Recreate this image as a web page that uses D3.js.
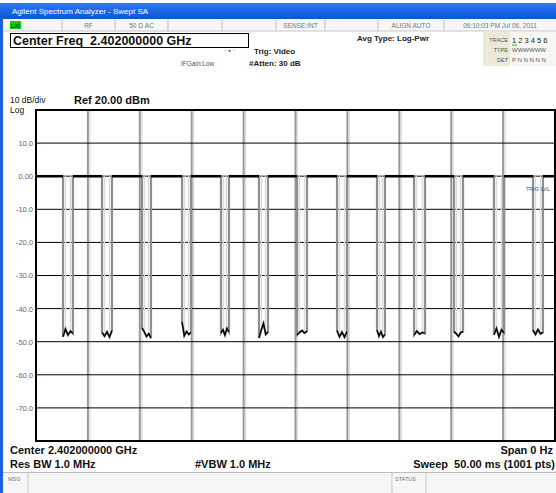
<!DOCTYPE html>
<html>
<head>
<meta charset="utf-8">
<script src="https://cdn.jsdelivr.net/npm/d3@7"></script>
<style>
  html, body { margin: 0; padding: 0; background: #fff; }
  svg { display: block; font-family: "Liberation Sans", Arial, sans-serif; }
</style>
</head>
<body>
<svg id="chart" width="556" height="493"></svg>
<script>
// ---- data -----------------------------------------------------------------
var yTickValues = [10, 0, -10, -20, -30, -40, -50, -60, -70];
var yTickLabels = ['10.0', '0.00', '-10.0', '-20.0', '-30.0', '-40.0', '-50.0', '-60.0', '-70.0'];
var xGridMs = [5, 10, 15, 20, 25, 30, 35, 40, 45];

// zero-span trace: carrier sits at 0 dBm, drops out 13 times (ms)
var dipStart = [2.60, 6.36, 10.21, 14.07, 17.82, 21.48, 25.14, 29.00, 32.85, 36.42, 40.27, 44.12, 47.88];
var dipEnd   = [3.56, 7.32, 11.08, 14.93, 18.59, 22.35, 26.11, 29.96, 33.62, 37.48, 41.14, 45.09, 48.84];
var topLevel = 0.0;
// noise floor samples at the bottom of each dip (dBm)
var dipFloor = [
  [-48.5, -46.2, -48.0, -46.8, -47.5],
  [-47.2, -48.3, -47.0, -48.6, -46.6],
  [-45.8, -47.0, -48.4, -47.6, -48.9],
  [-44.0, -48.2, -46.9, -47.8, -47.2],
  [-47.3, -46.4, -48.0, -46.0, -47.0],
  [-48.9, -46.5, -44.5, -47.8, -47.0],
  [-48.0, -47.2, -46.6, -47.4, -46.8],
  [-46.6, -48.5, -47.1, -48.6, -46.9],
  [-46.5, -48.3, -47.0, -48.6, -47.8],
  [-48.0, -46.8, -47.7, -47.2, -47.5],
  [-46.9, -47.6, -48.4, -47.2, -47.0],
  [-47.9, -46.0, -48.5, -46.4, -47.3],
  [-46.5, -47.8, -46.3, -47.6, -47.2]
];

var statusCells = [
  { x0: 4, x1: 62, text: '' },
  { x0: 62, x1: 115, text: 'RF' },
  { x0: 115, x1: 168, text: '50 Ω   AC' },
  { x0: 168, x1: 222, text: '' },
  { x0: 222, x1: 276, text: '' },
  { x0: 276, x1: 325, text: 'SENSE:INT' },
  { x0: 325, x1: 378, text: '' },
  { x0: 378, x1: 444, text: 'ALIGN AUTO' },
  { x0: 444, x1: 556, text: '06:10:03 PM Jul 06, 2011' }
];

// ---- build -----------------------------------------------------------------
var svg = d3.select('#chart');
var L = 36, R = 555, T = 110, B = 441;
var x = d3.scaleLinear().domain([0, 50]).range([L, R]);
var y = d3.scaleLinear().domain([-80, 20]).range([B, T]);

// title bar + window frame
var grad = svg.append('defs').append('linearGradient')
  .attr('id', 'tb').attr('x1', 0).attr('x2', 0).attr('y1', 0).attr('y2', 1);
grad.append('stop').attr('offset', '0%').attr('stop-color', '#2a7af2');
grad.append('stop').attr('offset', '100%').attr('stop-color', '#0a56d6');
svg.append('rect').attr('x', 0).attr('y', 3).attr('width', 556).attr('height', 16).attr('fill', 'url(#tb)');
svg.append('text').attr('x', 12).attr('y', 14).attr('fill', '#fff').attr('font-size', 8)
  .text('Agilent Spectrum Analyzer - Swept SA');
svg.append('rect').attr('x', 0).attr('y', 19).attr('width', 3).attr('height', 474).attr('fill', '#1b5fe2');

// status row
var st = svg.append('g');
st.append('rect').attr('x', 3).attr('y', 19).attr('width', 553).attr('height', 12).attr('fill', '#f6f6f6');
st.append('line').attr('x1', 3).attr('x2', 556).attr('y1', 31).attr('y2', 31).attr('stroke', '#c8c8c8');
statusCells.forEach(function (c, i) {
  if (i > 0) st.append('line').attr('x1', c.x0).attr('x2', c.x0).attr('y1', 20).attr('y2', 31).attr('stroke', '#bdbdbd');
  if (c.text) st.append('text').attr('x', (c.x0 + c.x1) / 2).attr('y', 28).attr('text-anchor', 'middle')
    .attr('font-size', 6.5).attr('fill', '#777').text(c.text);
});
st.append('rect').attr('x', 10).attr('y', 21).attr('width', 11).attr('height', 8).attr('fill', '#14c814');
st.append('text').attr('x', 11).attr('y', 28).attr('font-size', 6).attr('fill', '#000').text('LXI');

// center freq box
svg.append('rect').attr('x', 10.5).attr('y', 33.5).attr('width', 238).attr('height', 14)
  .attr('fill', '#fff').attr('stroke', '#000');
svg.append('text').attr('x', 13).attr('y', 45).attr('font-size', 12.5).attr('font-weight', 'bold')
  .attr('fill', '#111').attr('xml:space', 'preserve').text('Center Freq  2.402000000 GHz');

// settings text
svg.append('text').attr('x', 224).attr('y', 53).attr('font-size', 7).attr('fill', '#444').text('· ▪ ·');
svg.append('text').attr('x', 254).attr('y', 54).attr('font-size', 8).attr('font-weight', 'bold').attr('fill', '#222').text('Trig: Video');
svg.append('text').attr('x', 181).attr('y', 66).attr('font-size', 6.5).attr('fill', '#555').text('IFGain:Low');
svg.append('text').attr('x', 249).attr('y', 66).attr('font-size', 8).attr('font-weight', 'bold').attr('fill', '#222').text('#Atten: 30 dB');
svg.append('text').attr('x', 357).attr('y', 41).attr('font-size', 8).attr('font-weight', 'bold').attr('fill', '#222').text('Avg Type: Log-Pwr');

// trace panel
var tp = svg.append('g');
tp.append('rect').attr('x', 483).attr('y', 32).attr('width', 73).attr('height', 34).attr('fill', '#ece9d8');
tp.append('rect').attr('x', 510).attr('y', 32).attr('width', 46).attr('height', 34).attr('fill', '#f7f6f0');
[['TRACE', 42], ['TYPE', 52], ['DET', 62]].forEach(function (r) {
  tp.append('text').attr('x', 508).attr('y', r[1]).attr('text-anchor', 'end').attr('font-size', 5.5).attr('fill', '#555').text(r[0]);
});
tp.append('text').attr('x', 512).attr('y', 43).attr('font-size', 7.5).attr('fill', '#222').attr('xml:space', 'preserve').text('1 2 3 4 5 6');
tp.append('line').attr('x1', 512).attr('x2', 517).attr('y1', 45).attr('y2', 45).attr('stroke', '#18b818');
tp.append('text').attr('x', 512).attr('y', 52).attr('font-size', 6).attr('fill', '#555').text('WWWWWW');
tp.append('text').attr('x', 512).attr('y', 62).attr('font-size', 6).attr('fill', '#555').attr('xml:space', 'preserve').text('P N N N N N');

// scale header
svg.append('text').attr('x', 10).attr('y', 103).attr('font-size', 8.5).attr('fill', '#111').text('10 dB/div');
svg.append('text').attr('x', 10).attr('y', 113).attr('font-size', 8.5).attr('fill', '#111').text('Log');
svg.append('text').attr('x', 74).attr('y', 104).attr('font-size', 11).attr('font-weight', 'bold').attr('fill', '#111').text('Ref 20.00 dBm');

// grid
var grid = svg.append('g');
xGridMs.forEach(function (t) {
  grid.append('line').attr('x1', x(t) + 2).attr('x2', x(t) + 2).attr('y1', T).attr('y2', B)
    .attr('stroke', '#e0e0e0').attr('stroke-width', 1.5);
  grid.append('line').attr('x1', x(t)).attr('x2', x(t)).attr('y1', T).attr('y2', B)
    .attr('stroke', '#999').attr('stroke-width', 2);
});
yTickValues.forEach(function (v) {
  grid.append('line').attr('x1', L).attr('x2', R).attr('y1', y(v)).attr('y2', y(v))
    .attr('stroke', '#000').attr('stroke-width', 1);
});
grid.append('rect').attr('x', L).attr('y', T).attr('width', R - L).attr('height', B - T)
  .attr('fill', 'none').attr('stroke', '#000').attr('stroke-width', 2);

// y axis labels
var yAxis = d3.axisLeft(y).tickValues(yTickValues)
  .tickFormat(function (d, i) { return yTickLabels[i]; }).tickSize(0).tickPadding(3);
var ga = svg.append('g').attr('transform', 'translate(' + L + ',0)').call(yAxis);
ga.select('.domain').remove();
ga.selectAll('text').attr('font-size', 7.5).attr('fill', '#666').attr('font-family', '"Liberation Sans", Arial, sans-serif');

// trace
var pts = [[0, topLevel]];
dipStart.forEach(function (s, i) {
  var e = dipEnd[i], f = dipFloor[i];
  pts.push([s, topLevel]);
  f.forEach(function (v, j) { pts.push([s + (e - s) * j / (f.length - 1), v]); });
  pts.push([e, topLevel]);
});
pts.push([50, topLevel]);
var line = d3.line().x(function (d) { return x(d[0]); }).y(function (d) { return y(d[1]); });

// light inner edge next to each dip wall (downsampled-screen look)
dipStart.forEach(function (s, i) {
  [x(s) + 2.5, x(dipEnd[i]) - 2.5].forEach(function (xx) {
    svg.append('line').attr('x1', xx).attr('x2', xx).attr('y1', y(topLevel)).attr('y2', y(-47))
      .attr('stroke', '#dcdcdc').attr('stroke-width', 1.5);
  });
});
svg.append('path').attr('d', line(pts)).attr('fill', 'none').attr('stroke', '#8e8e8e').attr('stroke-width', 2.2);
// top flats in black
var flats = [[0, dipStart[0]]];
dipStart.forEach(function (s, i) { flats.push([dipEnd[i], i + 1 < dipStart.length ? dipStart[i + 1] : 50]); });
flats.forEach(function (f) {
  svg.append('path').attr('d', line([[f[0], topLevel], [f[1], topLevel]]))
    .attr('stroke', '#000').attr('stroke-width', 2.5);
});
// dip floors in black
dipFloor.forEach(function (f, i) {
  var s = dipStart[i], e = dipEnd[i];
  svg.append('path').attr('d', line(f.map(function (v, j) { return [s + (e - s) * j / (f.length - 1), v]; })))
    .attr('fill', 'none').attr('stroke', '#000').attr('stroke-width', 1.4);
});

svg.append('text').attr('x', 526).attr('y', 191).attr('font-size', 5.5).attr('fill', '#555').text('TRIG LVL');

// footer
svg.append('text').attr('x', 10).attr('y', 454).attr('font-size', 11).attr('font-weight', 'bold').attr('fill', '#111').text('Center 2.402000000 GHz');
svg.append('text').attr('x', 553).attr('y', 454).attr('text-anchor', 'end').attr('font-size', 11).attr('font-weight', 'bold').attr('fill', '#111').text('Span 0 Hz');
svg.append('text').attr('x', 10).attr('y', 468).attr('font-size', 11).attr('font-weight', 'bold').attr('fill', '#111').text('Res BW 1.0 MHz');
svg.append('text').attr('x', 195).attr('y', 468).attr('font-size', 11).attr('font-weight', 'bold').attr('fill', '#111').text('#VBW 1.0 MHz');
svg.append('text').attr('x', 555).attr('y', 468).attr('text-anchor', 'end').attr('font-size', 11).attr('font-weight', 'bold').attr('fill', '#111')
  .attr('xml:space', 'preserve').text('Sweep  50.00 ms (1001 pts)');

// message bar
var mb = svg.append('g');
mb.append('rect').attr('x', 3).attr('y', 472).attr('width', 553).attr('height', 21).attr('fill', '#f6f6f6');
mb.append('line').attr('x1', 3).attr('x2', 556).attr('y1', 472.5).attr('y2', 472.5).attr('stroke', '#bdbdbd');
[28, 392, 426].forEach(function (xx) {
  mb.append('line').attr('x1', xx).attr('x2', xx).attr('y1', 473).attr('y2', 493).attr('stroke', '#c8c8c8');
});
mb.append('text').attr('x', 8).attr('y', 481).attr('font-size', 5.5).attr('fill', '#777').text('MSG');
mb.append('text').attr('x', 395).attr('y', 481).attr('font-size', 5.5).attr('fill', '#777').text('STATUS');
</script>
</body>
</html>
